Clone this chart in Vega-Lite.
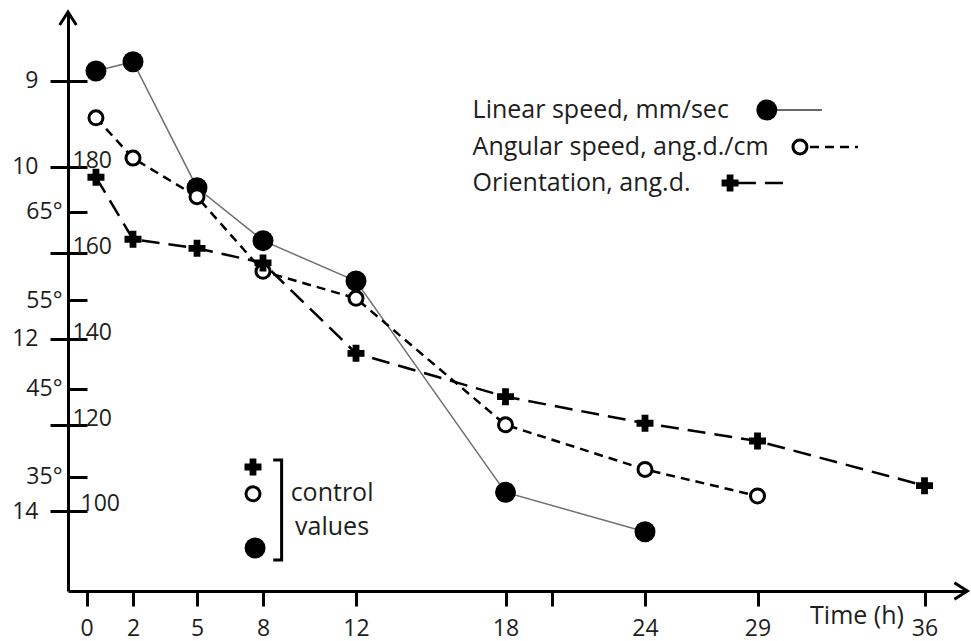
{
  "$schema": "https://vega.github.io/schema/vega-lite/v6.json",
  "width": 897,
  "height": 579,
  "autosize": "none",
  "padding": {"left": 68, "top": 12, "right": 6, "bottom": 50},
  "background": "white",
  "config": {
    "view": {"stroke": null},
    "font": "Open Sans",
    "axis": {"grid": false, "labelFont": "Open Sans", "titleFont": "Open Sans", "labelColor": "#1e1e1e", "titleColor": "#1e1e1e"},
    "text": {"font": "Open Sans", "color": "#1e1e1e"}
  },
  "data": {
    "values": [
      {"series": "linear", "kind": "data", "time": 0.4, "value": 8.884},
      {"series": "linear", "kind": "data", "time": 2, "value": 8.776},
      {"series": "linear", "kind": "data", "time": 5, "value": 10.241},
      {"series": "linear", "kind": "data", "time": 8, "value": 10.857},
      {"series": "linear", "kind": "data", "time": 12, "value": 11.326},
      {"series": "linear", "kind": "data", "time": 18, "value": 13.783},
      {"series": "linear", "kind": "data", "time": 24, "value": 14.241},
      {"series": "linear", "kind": "control", "time": 7.64, "value": 14.43},
      {"series": "angular", "kind": "data", "time": 0.4, "value": 191.7},
      {"series": "angular", "kind": "data", "time": 2, "value": 182.3},
      {"series": "angular", "kind": "data", "time": 5, "value": 173.3},
      {"series": "angular", "kind": "data", "time": 8, "value": 155.9},
      {"series": "angular", "kind": "data", "time": 12, "value": 149.6},
      {"series": "angular", "kind": "data", "time": 18, "value": 120.1},
      {"series": "angular", "kind": "data", "time": 24, "value": 109.7},
      {"series": "angular", "kind": "data", "time": 29, "value": 103.5},
      {"series": "angular", "kind": "control", "time": 7.545, "value": 104.0},
      {"series": "orientation", "kind": "data", "time": 0.4, "value": 68.93},
      {"series": "orientation", "kind": "data", "time": 2, "value": 61.91},
      {"series": "orientation", "kind": "data", "time": 5, "value": 60.89},
      {"series": "orientation", "kind": "data", "time": 8, "value": 59.23},
      {"series": "orientation", "kind": "data", "time": 12, "value": 49.0},
      {"series": "orientation", "kind": "data", "time": 18, "value": 44.09},
      {"series": "orientation", "kind": "data", "time": 24, "value": 41.08},
      {"series": "orientation", "kind": "data", "time": 29, "value": 39.07},
      {"series": "orientation", "kind": "data", "time": 36, "value": 34.01},
      {"series": "orientation", "kind": "control", "time": 7.545, "value": 36.13}
    ]
  },
  "encoding": {
    "x": {
      "field": "time",
      "type": "quantitative",
      "scale": {
        "domain": [-0.8, 0, 2, 5, 8, 12, 18, 20, 24, 29, 36, 37.7],
        "range": [0, 18.7, 65, 129, 195, 288, 437.5, 484, 577, 689.5, 856.5, 897],
        "nice": false,
        "zero": false
      },
      "axis": {
        "values": [0, 2, 5, 8, 12, 18, 20, 24, 29, 36],
        "labelExpr": "datum.value == 20 ? '' : datum.label",
        "domainColor": "black",
        "domainWidth": 3,
        "tickColor": "black",
        "tickWidth": 3,
        "tickSize": 15,
        "labelFontSize": 23,
        "labelPadding": 11,
        "labelFlush": false,
        "labelOverlap": false,
        "title": "Time (h)",
        "titleFontSize": 25,
        "titleFontWeight": "normal",
        "titleX": 788.5,
        "titleY": 24,
        "titleAlign": "center",
        "titleBaseline": "middle"
      }
    }
  },
  "layer": [
    {
      "encoding": {
        "y": {
          "field": "value",
          "type": "quantitative",
          "scale": {"domain": [8.198, 14.93], "reverse": true, "nice": false, "zero": false},
          "axis": {
            "orient": "left",
            "offset": -19,
            "values": [9, 10, 11, 12, 13, 14],
            "labelExpr": "datum.value == 11 || datum.value == 13 ? '' : datum.label",
            "domain": false,
            "tickSize": 37,
            "tickWidth": 3,
            "tickColor": "black",
            "labelFontSize": 23,
            "labelPadding": 12,
            "labelBaseline": "middle",
            "title": null
          }
        }
      },
      "layer": [
        {
          "transform": [{"filter": "datum.series == 'linear' && datum.kind == 'data'"}],
          "mark": {"type": "line", "stroke": "#707070", "strokeWidth": 1.5}
        },
        {
          "transform": [{"filter": "datum.series == 'linear'"}],
          "mark": {"type": "point", "shape": "circle", "filled": true, "fill": "black", "size": 440, "opacity": 1, "strokeWidth": 0}
        },
        {
          "transform": [{"filter": "datum.series == 'linear' && datum.time == 2"}],
          "mark": {"type": "point", "shape": "M-0.64,1L0,0L0.64,1", "filled": false, "stroke": "black", "strokeWidth": 3, "size": 676, "opacity": 1},
          "encoding": {"x": {"datum": -0.8, "type": "quantitative"}, "y": {"datum": 8.198, "type": "quantitative"}}
        },
        {
          "transform": [{"filter": "datum.series == 'linear' && datum.time == 2"}],
          "mark": {"type": "point", "shape": "M-1,-0.64L0,0L-1,0.64", "filled": false, "stroke": "black", "strokeWidth": 3, "size": 676, "opacity": 1},
          "encoding": {"x": {"datum": 37.8, "type": "quantitative"}, "y": {"datum": 14.93, "type": "quantitative"}}
        },
        {
          "transform": [{"filter": "datum.series == 'linear' && datum.time == 2"}],
          "mark": {"type": "text", "text": "Linear speed, mm/sec", "align": "left", "baseline": "middle", "fontSize": 25},
          "encoding": {"x": {"datum": 16.68, "type": "quantitative"}, "y": {"datum": 9.337, "type": "quantitative"}}
        },
        {
          "transform": [{"filter": "datum.series == 'linear' && datum.time == 2"}],
          "mark": {"type": "text", "text": "Angular speed, ang.d./cm", "align": "left", "baseline": "middle", "fontSize": 25},
          "encoding": {"x": {"datum": 16.68, "type": "quantitative"}, "y": {"datum": 9.767, "type": "quantitative"}}
        },
        {
          "transform": [{"filter": "datum.series == 'linear' && datum.time == 2"}],
          "mark": {"type": "text", "text": "Orientation, ang.d.", "align": "left", "baseline": "middle", "fontSize": 25},
          "encoding": {"x": {"datum": 16.68, "type": "quantitative"}, "y": {"datum": 10.186, "type": "quantitative"}}
        },
        {
          "transform": [{"filter": "datum.series == 'linear' && datum.time == 2"}],
          "mark": {"type": "rule", "stroke": "#333333", "strokeWidth": 1.5},
          "encoding": {"x": {"datum": 29.73, "type": "quantitative"}, "x2": {"datum": 31.7}, "y": {"datum": 9.337, "type": "quantitative"}}
        },
        {
          "transform": [{"filter": "datum.series == 'linear' && datum.time == 2"}],
          "mark": {"type": "rule", "stroke": "black", "strokeWidth": 2.5, "strokeDash": [9, 6]},
          "encoding": {"x": {"datum": 31.2, "type": "quantitative"}, "x2": {"datum": 33.21}, "y": {"datum": 9.767, "type": "quantitative"}}
        },
        {
          "transform": [{"filter": "datum.series == 'linear' && datum.time == 2"}],
          "mark": {"type": "rule", "stroke": "black", "strokeWidth": 2.5, "strokeDash": [18, 9]},
          "encoding": {"x": {"datum": 28.13, "type": "quantitative"}, "x2": {"datum": 30.07}, "y": {"datum": 10.186, "type": "quantitative"}}
        },
        {
          "transform": [{"filter": "datum.series == 'linear' && datum.time == 2"}],
          "mark": {"type": "point", "shape": "circle", "filled": true, "fill": "black", "size": 440, "opacity": 1, "strokeWidth": 0},
          "encoding": {"x": {"datum": 29.39, "type": "quantitative"}, "y": {"datum": 9.337, "type": "quantitative"}}
        },
        {
          "transform": [{"filter": "datum.series == 'linear' && datum.time == 2"}],
          "mark": {"type": "point", "shape": "circle", "filled": true, "fill": "white", "stroke": "black", "strokeWidth": 3, "size": 196, "opacity": 1},
          "encoding": {"x": {"datum": 30.78, "type": "quantitative"}, "y": {"datum": 9.767, "type": "quantitative"}}
        },
        {
          "transform": [{"filter": "datum.series == 'linear' && datum.time == 2"}],
          "mark": {"type": "point", "shape": "cross", "filled": true, "fill": "black", "size": 289, "opacity": 1, "strokeWidth": 0},
          "encoding": {"x": {"datum": 27.78, "type": "quantitative"}, "y": {"datum": 10.186, "type": "quantitative"}}
        },
        {
          "transform": [{"filter": "datum.series == 'linear' && datum.time == 2"}],
          "mark": {"type": "point", "shape": "M-0.084,-1L0.084,-1L0.084,1L-0.084,1", "filled": false, "stroke": "black", "strokeWidth": 3, "size": 10000, "opacity": 1},
          "encoding": {"x": {"datum": 8.62, "type": "quantitative"}, "y": {"datum": 13.988, "type": "quantitative"}}
        },
        {
          "transform": [{"filter": "datum.series == 'linear' && datum.time == 2"}],
          "mark": {"type": "text", "text": "control", "align": "center", "baseline": "middle", "fontSize": 25},
          "encoding": {"x": {"datum": 10.97, "type": "quantitative"}, "y": {"datum": 13.791, "type": "quantitative"}}
        },
        {
          "transform": [{"filter": "datum.series == 'linear' && datum.time == 2"}],
          "mark": {"type": "text", "text": "values", "align": "center", "baseline": "middle", "fontSize": 25},
          "encoding": {"x": {"datum": 10.97, "type": "quantitative"}, "y": {"datum": 14.186, "type": "quantitative"}}
        }
      ]
    },
    {
      "encoding": {
        "y": {
          "field": "value",
          "type": "quantitative",
          "scale": {"domain": [81.34, 216.38], "nice": false, "zero": false},
          "axis": {
            "orient": "left",
            "offset": 0,
            "values": [100, 120, 140, 160, 180],
            "domain": true,
            "domainColor": "black",
            "domainWidth": 3,
            "ticks": false,
            "tickSize": 0,
            "labelFontSize": 23,
            "labelAlign": "left",
            "labelBaseline": "alphabetic",
            "labelPadding": {"condition": {"test": "datum.value == 100", "value": -12}, "value": -4},
            "title": null
          }
        }
      },
      "layer": [
        {
          "transform": [{"filter": "datum.series == 'angular' && datum.kind == 'data'"}],
          "mark": {"type": "line", "stroke": "black", "strokeWidth": 2.5, "strokeDash": [9, 6]}
        },
        {
          "transform": [{"filter": "datum.series == 'angular'"}],
          "mark": {"type": "point", "shape": "circle", "filled": true, "fill": "white", "stroke": "black", "strokeWidth": 3, "size": 196, "opacity": 1}
        }
      ]
    },
    {
      "encoding": {
        "y": {
          "field": "value",
          "type": "quantitative",
          "scale": {"domain": [22.09, 87.64], "nice": false, "zero": false},
          "axis": {
            "orient": "left",
            "offset": -19,
            "values": [35, 45, 55, 65],
            "labelExpr": "datum.label + '°'",
            "domain": false,
            "tickSize": 19,
            "tickWidth": 3,
            "tickColor": "black",
            "labelFontSize": 23,
            "labelPadding": 6,
            "labelBaseline": "middle",
            "title": null
          }
        }
      },
      "layer": [
        {
          "transform": [{"filter": "datum.series == 'orientation' && datum.kind == 'data'"}],
          "mark": {"type": "line", "stroke": "black", "strokeWidth": 2.5, "strokeDash": [18, 9]}
        },
        {
          "transform": [{"filter": "datum.series == 'orientation'"}],
          "mark": {"type": "point", "shape": "cross", "filled": true, "fill": "black", "size": 289, "opacity": 1, "strokeWidth": 0}
        }
      ]
    }
  ],
  "resolve": {"scale": {"y": "independent"}, "axis": {"y": "independent"}}
}
